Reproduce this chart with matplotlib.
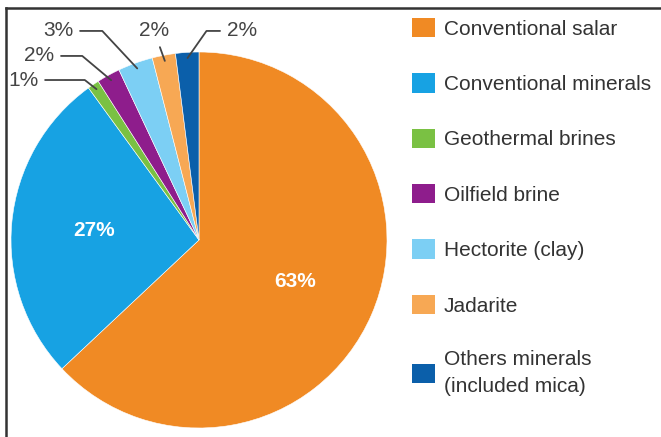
import matplotlib
matplotlib.use("Agg")
import matplotlib.pyplot as plt
from matplotlib.patches import Patch
from matplotlib.lines import Line2D
import numpy as np

plt.rcParams['font.family'] = ['Liberation Sans', 'DejaVu Sans']

# ---- data ----
categories = ["Conventional salar", "Conventional minerals", "Geothermal brines",
              "Oilfield brine", "Hectorite (clay)", "Jadarite",
              "Others minerals\n(included mica)"]
values = [63, 27, 1, 2, 3, 2, 2]
colors = ["#F08A24", "#17A2E3", "#7AC143", "#8E1D8C", "#7CCFF4", "#F7A854", "#0B5FAA"]

W, H = 661, 437
fig = plt.figure(figsize=(W / 100, H / 100), dpi=100)
fig.patch.set_facecolor("white")

# pie axes: centre (199,240) px, radius 188 px
cx, cy, R = 199, 240, 188
ax = fig.add_axes([(cx - R) / W, (H - cy - R) / H, 2 * R / W, 2 * R / H])
wedges, _ = ax.pie(values, colors=colors, startangle=90, counterclock=False,
                   radius=1, wedgeprops=dict(edgecolor="white", linewidth=0.4))
ax.set_xlim(-1, 1)
ax.set_ylim(-1, 1)
ax.set_aspect("equal")
ax.axis("off")

def mid_angle(w):
    return np.deg2rad((w.theta1 + w.theta2) / 2)

# inside labels for the two big slices
for i in (0, 1):
    a = mid_angle(wedges[i])
    ax.text(0.56 * np.cos(a), 0.56 * np.sin(a), f"{values[i]}%", color="white",
            fontsize=15, fontweight="bold", ha="center", va="center")

# outside labels with leader lines (style/placement only)
outer = {
    2: dict(pos=(-0.936, 0.851), conn="angle,angleA=0,angleB=142,rad=0"),
    3: dict(pos=(-0.851, 0.979), conn="angle,angleA=0,angleB=140,rad=0"),
    4: dict(pos=(-0.750, 1.112), conn="angle,angleA=0,angleB=133,rad=0"),
    5: dict(pos=(-0.239, 1.112), conn="arc3,rad=0"),
    6: dict(pos=(0.229, 1.112), conn="angle,angleA=0,angleB=55,rad=0"),
}
for i, st in outer.items():
    a = mid_angle(wedges[i])
    xy = (0.97 * np.cos(a), 0.97 * np.sin(a))
    ax.annotate(f"{values[i]}%", xy=xy, xytext=st["pos"], textcoords="data",
                ha="center", va="center", fontsize=15, color="#444444",
                annotation_clip=False,
                arrowprops=dict(arrowstyle="-", color="#444444", lw=1.3,
                                connectionstyle=st["conn"], shrinkA=3, shrinkB=0))

# legend
handles = [Patch(facecolor=c, edgecolor="none") for c in colors]
leg = fig.legend(handles, categories, loc="upper left",
                 bbox_to_anchor=(412 / W, 1 - 18 / H), frameon=False,
                 fontsize=15, handlelength=1.1, handleheight=1.05,
                 handletextpad=0.42, labelspacing=1.66, borderpad=0,
                 borderaxespad=0)
for t in leg.get_texts():
    t.set_color("#333333")
    t.set_linespacing(1.5)

# frame lines (top and left visible)
fig.add_artist(Line2D([6 / W, 1], [1 - 8 / H, 1 - 8 / H], transform=fig.transFigure,
                      color="#333333", lw=1.8))
fig.add_artist(Line2D([6 / W, 6 / W], [0, 1 - 8 / H], transform=fig.transFigure,
                      color="#333333", lw=1.8))

fig.savefig("out.png", dpi=100, facecolor="white")
